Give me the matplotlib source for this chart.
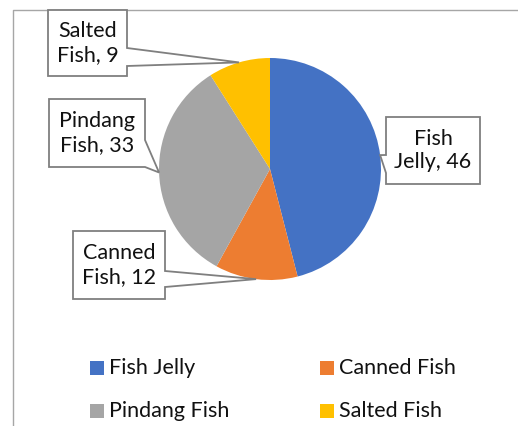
import numpy as np
import matplotlib
matplotlib.use("Agg")
import matplotlib.pyplot as plt
from matplotlib.patches import Polygon, Rectangle

categories = ["Fish Jelly", "Canned Fish", "Pindang Fish", "Salted Fish"]
values = [46, 12, 33, 9]
colors = ["#4472C4", "#ED7D31", "#A5A5A5", "#FFC000"]

W, H = 518, 426
plt.rcParams['font.family'] = ['Lato', 'DejaVu Sans']
fig = plt.figure(figsize=(W / 100, H / 100), dpi=100)
ax = fig.add_axes([0, 0, 1, 1])

def Y(y):
    return H - y

cx, cy, r = 270, 169, 111
wedges, _ = ax.pie(values, colors=colors, startangle=90, counterclock=False,
                   center=(cx, Y(cy)), radius=r, frame=True,
                   wedgeprops=dict(linewidth=0))
ax.set_xlim(0, W)
ax.set_ylim(0, H)
ax.set_aspect('equal')
ax.axis('off')

# chart border (partially visible)
ax.plot([13, 13, W], [Y(H), Y(9.5), Y(9.5)], color="#a6a6a6", lw=1.0, solid_capstyle='butt')

# label boxes: (left, top, right, bottom), pointer side, pointer base (y0, y1)
boxes = {
    "Salted Fish": ((48, 10, 127, 76), 'right', (48, 66)),
    "Pindang Fish": ((49, 99, 145, 167), 'right', (140, 167)),
    "Fish Jelly": ((386, 117, 480, 184), 'left', (155, 173)),
    "Canned Fish": ((73, 231, 165, 299), 'right', (271, 287)),
}
label_text = {
    "Salted Fish": "Salted\nFish, {}",
    "Pindang Fish": "Pindang\nFish, {}",
    "Fish Jelly": "Fish\nJelly, {}",
    "Canned Fish": "Canned\nFish, {}",
}

for w, cat, val in zip(wedges, categories, values):
    mid = np.deg2rad((w.theta1 + w.theta2) / 2)
    tx = cx + r * np.cos(mid)
    ty = cy - r * np.sin(mid)
    (l, t, rr, b), side, (p0, p1) = boxes[cat]
    if side == 'right':
        pts = [(l, t), (rr, t), (rr, p0), (tx, ty), (rr, p1), (rr, b), (l, b)]
    else:
        pts = [(l, t), (rr, t), (rr, b), (l, b), (l, p1), (tx, ty), (l, p0)]
    poly = Polygon([(x, Y(y)) for x, y in pts], closed=True, facecolor='white',
                   edgecolor='#7f7f7f', lw=1.3, joinstyle='miter', zorder=5)
    ax.add_patch(poly)
    ax.text((l + rr) / 2, Y((t + b) / 2), label_text[cat].format(val),
            ha='center', va='center', fontsize=15.5, color='#111111',
            linespacing=1.2, zorder=6)

# legend
leg_pos = {
    "Fish Jelly": (90, 368),
    "Canned Fish": (320, 368),
    "Pindang Fish": (90, 411),
    "Salted Fish": (320, 411),
}
for cat, col in zip(categories, colors):
    x, y = leg_pos[cat]
    ax.add_patch(Rectangle((x, Y(y + 7)), 14, 14, facecolor=col, edgecolor='none'))
    ax.text(x + 19, Y(y), cat, ha='left', va='center', fontsize=15.5, color='#111111')

fig.savefig("out.png", dpi=100)
